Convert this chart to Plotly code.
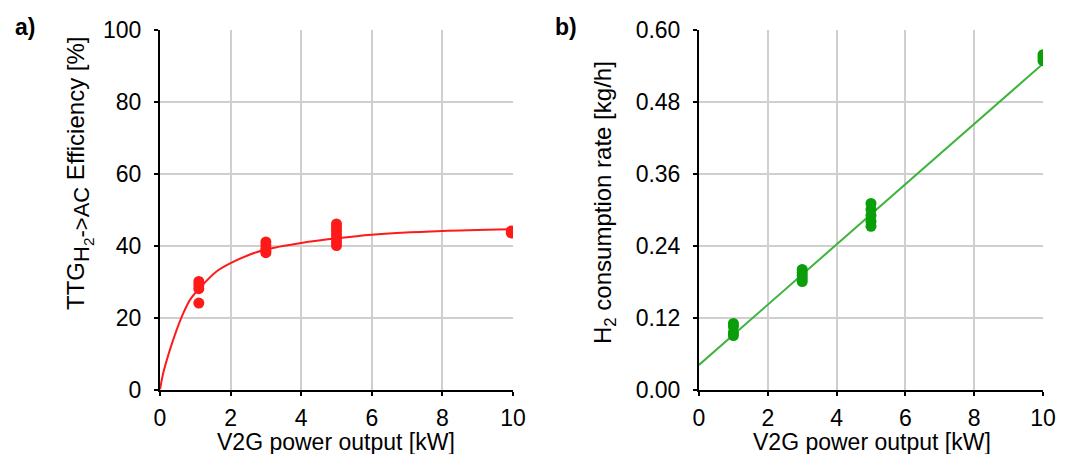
import plotly.graph_objects as go

# ---- data: panel a (efficiency) ----
a_x = [1.1, 1.1, 1.1, 1.1, 3, 3, 3, 3, 3, 5, 5, 5, 5, 5, 5, 5, 9.95, 9.95]
a_y = [30, 29, 28, 24, 41, 40, 39, 38.5, 38, 46, 45, 44, 43, 42, 41, 40, 44, 43.5]
a_fit_x = [0, 0.09, 0.28, 0.47, 0.66, 0.85, 1.08, 1.6, 2, 2.55, 3, 4, 5, 6, 8, 10]
a_fit_y = [0, 4.5, 11, 16.5, 21.2, 24.9, 27.7, 32.8, 35.1, 37.5, 38.9, 40.7, 42.0, 43.0, 44.0, 44.5]

# ---- data: panel b (H2 consumption) ----
b_x = [1, 1, 1, 1, 3, 3, 3, 3, 3, 5, 5, 5, 5, 5, 10, 10, 10]
b_y = [0.11, 0.105, 0.095, 0.09, 0.20, 0.195, 0.19, 0.185, 0.18,
       0.31, 0.30, 0.29, 0.28, 0.272, 0.558, 0.553, 0.548]
b_fit_x = [0, 10]
b_fit_y = [0.041, 0.543]

x_ticks = [0, 2, 4, 6, 8, 10]
a_yticks = [0, 20, 40, 60, 80, 100]
b_yticks = [0, 0.12, 0.24, 0.36, 0.48, 0.60]
b_yticklabels = ["0.00", "0.12", "0.24", "0.36", "0.48", "0.60"]

FONT = "Liberation Sans, Arial, sans-serif"
OFF = 8                      # page body margin in the browser
W, H = 1065 - OFF, 446
RED = "#ff1a1a"
GREEN_L = "#3cb43c"
GREEN_M = "#0a9e0a"


def px(xp):
    return (xp - OFF) / W


def py(yp):
    return 1 - (yp - OFF) / H


fig = go.Figure()
fig.add_trace(go.Scatter(x=a_fit_x, y=a_fit_y, mode="lines",
                         line=dict(color=RED, width=2, shape="spline", smoothing=0.8),
                         xaxis="x", yaxis="y", showlegend=False, hoverinfo="skip"))
fig.add_trace(go.Scatter(x=a_x, y=a_y, mode="markers", marker=dict(color=RED, size=11),
                         xaxis="x", yaxis="y", showlegend=False))
fig.add_trace(go.Scatter(x=b_fit_x, y=b_fit_y, mode="lines", line=dict(color=GREEN_L, width=2),
                         xaxis="x2", yaxis="y2", showlegend=False, hoverinfo="skip"))
fig.add_trace(go.Scatter(x=b_x, y=b_y, mode="markers", marker=dict(color=GREEN_M, size=11),
                         xaxis="x2", yaxis="y2", showlegend=False))

ydom = [py(389.5), py(29.5)]
common = dict(showline=True, linecolor="black", linewidth=2, ticks="outside", ticklen=4,
              tickcolor="black", tickwidth=2, showgrid=True, gridcolor="#cfcfcf", gridwidth=1.5,
              zeroline=False, tickfont=dict(family=FONT, size=23, color="black"),
              automargin=False, ticklabeloverflow="allow")
xcommon = dict(common, ticklabelstandoff=3)
ycommon = dict(common, ticklabelstandoff=8)

fig.update_layout(
    width=W, height=H,
    margin=dict(l=0, r=0, t=0, b=0, autoexpand=False),
    paper_bgcolor="white", plot_bgcolor="white",
    font=dict(family=FONT, color="black"),
    xaxis=dict(domain=[px(160), px(513)], range=[0, 10], tickvals=x_ticks, anchor="y", **xcommon),
    yaxis=dict(domain=ydom, range=[0, 100], tickvals=a_yticks, anchor="x", **ycommon),
    xaxis2=dict(domain=[px(699), px(1043)], range=[0, 10], tickvals=x_ticks, anchor="y2", **xcommon),
    yaxis2=dict(domain=ydom, range=[0, 0.6], tickvals=b_yticks, ticktext=b_yticklabels, anchor="x2", **ycommon),
)

ann = []
ann.append(dict(text="<b>a)</b>", x=px(25), y=py(27), xref="paper", yref="paper", showarrow=False,
                font=dict(size=23, family=FONT), xanchor="center", yanchor="middle"))
ann.append(dict(text="<b>b)</b>", x=px(566), y=py(27), xref="paper", yref="paper", showarrow=False,
                font=dict(size=23, family=FONT), xanchor="center", yanchor="middle"))
ann.append(dict(text="V2G power output [kW]", x=px(336), y=py(442), xref="paper", yref="paper",
                showarrow=False, font=dict(size=23, family=FONT), xanchor="center", yanchor="middle"))
ann.append(dict(text="V2G power output [kW]", x=px(872), y=py(442), xref="paper", yref="paper",
                showarrow=False, font=dict(size=23, family=FONT), xanchor="center", yanchor="middle"))
ann.append(dict(text="TTG<sub><span style='font-size:22px'>H<sub>2</sub>-&gt;AC</span></sub> Efficiency [%]",
                x=px(80), y=py(174),
                xref="paper", yref="paper", showarrow=False, textangle=-90,
                font=dict(size=24, family=FONT), xanchor="center", yanchor="middle"))
ann.append(dict(text="H<sub>2</sub> consumption rate [kg/h]", x=px(604), y=py(203),
                xref="paper", yref="paper", showarrow=False, textangle=-90,
                font=dict(size=24, family=FONT), xanchor="center", yanchor="middle"))
fig.update_layout(annotations=ann)

fig.write_html("out.html")
